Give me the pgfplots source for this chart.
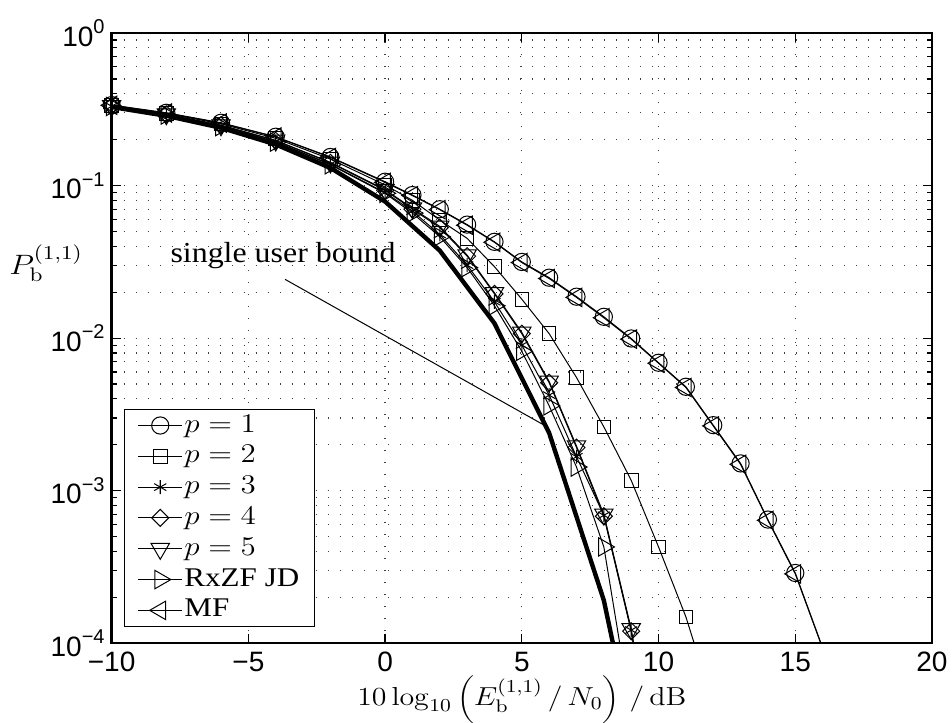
\RequirePackage{fix-cm}
\documentclass[border=0pt]{standalone}
\usepackage{graphicx}
\usepackage{pgfplots}
\pgfplotsset{compat=1.18}
\usepackage[no-math]{fontspec}
\setmainfont{Liberation Serif}
\newfontfamily\tickfont{Liberation Sans}
% exponent for the sans-serif decade labels
\newcommand\tsup[1]{\raisebox{0.45em}{\fontsize{10}{10}\selectfont #1}}
% slightly widened lettering
\protected\def\wide#1{\scalebox{1.15}[1]{#1}}
% legend lettering
\protected\def\leg#1{{\fontsize{13.5}{15}\selectfont\wide{#1}}}

\begin{document}
\begin{tikzpicture}
\begin{axis}[
  name=ax,
  scale only axis, width=410pt, height=305pt,
  xmin=-10, xmax=20, ymode=log, ymin=1e-4, ymax=1,
  xtick={-10,-5,0,5,10,15,20},
  xticklabels={−10,−5,0,5,10,15,20},
  ytick={1e-4,1e-3,1e-2,1e-1,1},
  yticklabels={10\tsup{−4},10\tsup{−3},10\tsup{−2},10\tsup{−1},10\tsup{0}},
  ticklabel style={font=\tickfont\fontsize{14}{16}\selectfont},
  xticklabel style={yshift=-1pt},
  minor x tick num=0,
  xmajorgrids, ymajorgrids, yminorgrids,
  major grid style={black!75, line width=0.6pt, dash pattern=on 0.6pt off 5.4pt},
  minor grid style={black!75, line width=0.6pt, dash pattern=on 0.6pt off 5.4pt},
  axis line style={line width=1.2pt},
  tick style={line width=0.6pt, black},
  tick align=inside,
  major tick length=4.5pt, minor tick length=2.5pt,
  xlabel={\wide{$10\log_{10}\left(E_{\mathrm{b}}^{(1,1)}\,/\,N_0\right)\,/\,\mathrm{dB}$}},
  xlabel style={at={(axis description cs:0.5,0)}, anchor=center, yshift=-28pt,
                font=\fontsize{13}{15}\selectfont},
  ylabel={\wide{$P_{\mathrm{b}}^{(1,1)}$}},
  ylabel style={rotate=-90, at={(axis description cs:0,0.623)}, anchor=center, xshift=-32.8pt,
                font=\fontsize{14}{16}\selectfont},
  legend style={at={(axis description cs:0.0151,0.0267)}, anchor=south west,
                draw=black, line width=0.5pt, fill=white,
                inner xsep=6.7pt, inner ysep=0.8pt, row sep=0.9pt,
                nodes={inner sep=1pt, text height=9.5pt, text depth=3pt}},
  legend cell align=left,
  legend image code/.code={\draw[#1, mark indices={2}]
     plot coordinates {(0cm,0cm) (0.383cm,0cm) (0.765cm,0cm)};},
  every axis plot/.append style={line width=0.5pt, black},
]

% single user bound (BPSK, AWGN)
\addplot[line width=2.2pt, mark=none, forget plot] coordinates {
  (-10,0.3274) (-8,0.2867) (-6,0.2392) (-4,0.1861) (-2,0.1306) (0,0.0786)
  (2,0.0375) (4,0.0125) (6,0.00239) (8,0.000191) (10,0.00000387)};

% p = 1
\addplot[mark=o, mark size=4.3pt, mark options={solid, fill=none}, mark indices={1,...,21}] coordinates {
  (-10,0.337) (-8,0.300) (-6,0.258) (-4,0.209) (-2,0.154) (0,0.106) (1,0.0867)
  (2,0.0700) (3,0.0555) (4,0.0428) (5,0.0316) (6,0.0249) (7,0.0187) (8,0.0138)
  (9,0.00995) (10,0.0069) (11,0.0048) (12,0.00269) (13,0.00151) (14,0.000647)
  (15,0.000289) (16,0.0000935)};
\addlegendentry{\leg{$p=1$}}

% p = 2
\addplot[mark=square, mark size=3.4pt, mark options={solid, fill=none}, mark indices={1,...,17}] coordinates {
  (-10,0.335) (-8,0.297) (-6,0.254) (-4,0.204) (-2,0.149) (0,0.101) (1,0.080)
  (2,0.0594) (3,0.0451) (4,0.0294) (5,0.0180) (6,0.0107) (7,0.00552) (8,0.00262)
  (9,0.00117) (10,0.000428) (11,0.000149) (12,0.000040)};
\addlegendentry{\leg{$p=2$}}

% p = 3
\addplot[mark=asterisk, mark size=3.5pt, mark options={solid}, mark indices={1,...,15}] coordinates {
  (-10,0.331) (-8,0.291) (-6,0.245) (-4,0.194) (-2,0.138) (0,0.090) (1,0.068)
  (2,0.0478) (3,0.0301) (4,0.0173) (5,0.0090) (6,0.00423) (7,0.00167) (8,0.00069)
  (9,0.000122) (10,0.0000100)};
\addlegendentry{\leg{$p=3$}}

% p = 4
\addplot[mark=square, mark size=3.0pt, mark options={solid, fill=none, rotate=45}, mark indices={1,...,15}] coordinates {
  (-10,0.332) (-8,0.293) (-6,0.248) (-4,0.197) (-2,0.141) (0,0.093) (1,0.070)
  (2,0.0530) (3,0.0345) (4,0.0195) (5,0.0107) (6,0.00510) (7,0.00192) (8,0.00068)
  (9,0.000120) (10,0.0000100)};
\addlegendentry{\leg{$p=4$}}

% p = 5
\addplot[mark=triangle, mark size=5.3pt, mark options={solid, fill=none, rotate=180}, mark indices={1,...,15}] coordinates {
  (-10,0.333) (-8,0.294) (-6,0.249) (-4,0.198) (-2,0.142) (0,0.094) (1,0.071)
  (2,0.0540) (3,0.0350) (4,0.0198) (5,0.0109) (6,0.00520) (7,0.00196) (8,0.00070)
  (9,0.000124) (10,0.0000105)};
\addlegendentry{\leg{$p=5$}}

% RxZF JD
\addplot[mark=triangle, mark size=5.3pt, mark options={solid, fill=none, rotate=-90}, mark indices={1,...,14}] coordinates {
  (-10,0.330) (-8,0.290) (-6,0.244) (-4,0.193) (-2,0.137) (0,0.089) (1,0.066)
  (2,0.0462) (3,0.0290) (4,0.0163) (5,0.0082) (6,0.0036) (7,0.00143) (8,0.000428)
  (9,0.0000350)};
\addlegendentry{\leg{RxZF JD}}

% MF
\addplot[mark=triangle, mark size=5.3pt, mark options={solid, fill=none, rotate=90}, mark indices={1,...,21}] coordinates {
  (-10,0.336) (-8,0.299) (-6,0.257) (-4,0.208) (-2,0.153) (0,0.105) (1,0.0860)
  (2,0.0695) (3,0.0550) (4,0.0425) (5,0.0313) (6,0.0246) (7,0.0185) (8,0.0136)
  (9,0.00985) (10,0.00685) (11,0.00475) (12,0.00266) (13,0.00149) (14,0.000640)
  (15,0.000285) (16,0.0000925)};
\addlegendentry{\leg{MF}}

\node[font=\fontsize{14.5}{16}\selectfont] at (axis cs:-3.73,0.035) {\scalebox{1.1}[1]{single user bound}};
\draw[line width=0.5pt] (axis cs:-3.66,0.0243) -- (axis cs:5.8,0.0027);
\end{axis}
\pgfresetboundingbox
\path[use as bounding box] ([shift={(-55.8pt,-39.5pt)}]ax.south west) rectangle ([shift={(10pt,16.5pt)}]ax.north east);
\end{tikzpicture}
\end{document}
